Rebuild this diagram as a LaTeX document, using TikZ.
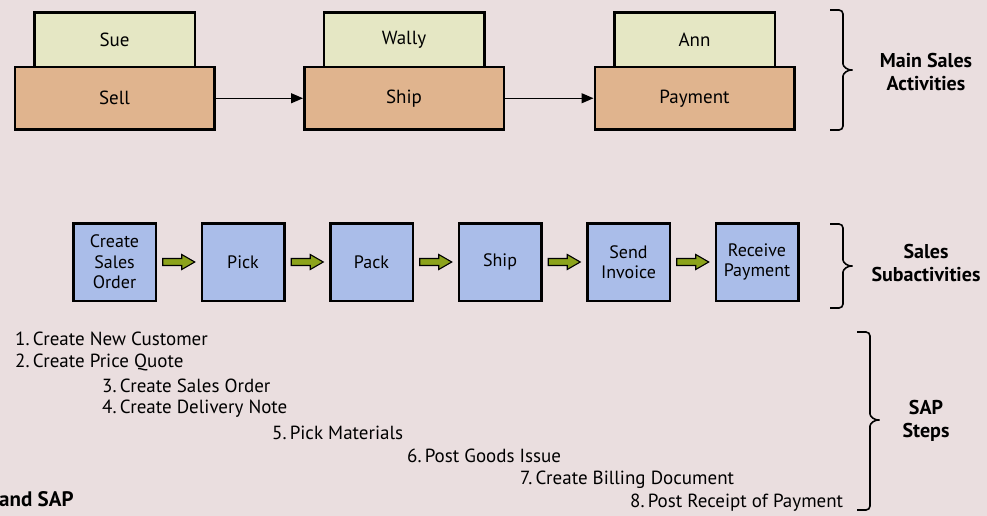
\documentclass[tikz,border=0pt]{standalone}
\usepackage{fontspec}
\setmainfont{PT Sans}
\usetikzlibrary{positioning,calc,arrows.meta}

\definecolor{bgpink}{RGB}{234,222,223}
\definecolor{ownerfill}{RGB}{229,231,196}
\definecolor{actfill}{RGB}{224,180,142}
\definecolor{subfill}{RGB}{170,189,233}
\definecolor{flowgreen}{RGB}{140,163,28}

\tikzset{
  owner/.style={draw, line width=2.5pt, fill=ownerfill, minimum width=160.5pt, minimum height=54.5pt,
    inner sep=0pt, font=\fontsize{19}{22}\selectfont},
  activity/.style={draw, line width=2.5pt, fill=actfill, minimum width=199.5pt, minimum height=62pt,
    inner sep=0pt, font=\fontsize{19}{22}\selectfont},
  subact/.style={draw, line width=2.5pt, fill=subfill, minimum width=82.5pt, minimum height=77.5pt,
    inner sep=0pt, align=center, font=\fontsize{18}{20.5}\selectfont},
  flowarrow/.pic={\draw[line width=1.1pt, fill=flowgreen, line join=miter]
    (-16,-3.5) -- (3,-3.5) -- (3,-7.5) -- (16,0) -- (3,7.5) -- (3,3.5) -- (-16,3.5) -- cycle;},
  saptext/.style={anchor=west, inner sep=0pt, font=\fontsize{19}{22}\selectfont},
  bracelabel/.style={align=center, font=\bfseries\fontsize{20}{23}\selectfont}
}

% x, top, tip, bottom
\newcommand{\sidebrace}[4]{%
  \draw[line width=1.6pt, rounded corners=4pt] (#1,#2) -- ({#1+13},#2) -- ({#1+13},{#3-10})
    .. controls ({#1+13},{#3-3}) and ({#1+18},#3) .. ({#1+25},#3)
    .. controls ({#1+18},#3) and ({#1+13},{#3+3}) .. ({#1+13},{#3+10})
    -- ({#1+13},#4) -- (#1,#4);}

\begin{document}
\begin{tikzpicture}[x=1pt, y=-1pt]
  \fill[bgpink] (0,0) rectangle (987,516);
  \useasboundingbox (0,0) rectangle (987,516);

  % main activities
  \node[owner] (sue) at (114.5,40) {Sue};
  \node[activity, below=-2.5pt of sue] (sell) {Sell};
  \node[owner] (wally) at (404,40) {Wally};
  \node[activity, below=-2.5pt of wally] (ship) {Ship};
  \node[owner] (ann) at (694.5,40) {Ann};
  \node[activity, below=-2.5pt of ann] (payment) {Payment};

  \draw[-{Triangle[length=12pt, width=10pt]}, line width=1.3pt] (sell) -- (ship);
  \draw[-{Triangle[length=12pt, width=10pt]}, line width=1.3pt] (ship) -- (payment);

  % subactivities
  \node[subact] (order) at (114.5,262) {Create\\Sales\\Order};
  \node[subact, right=43.5pt of order] (pick) {Pick};
  \node[subact, right=43.5pt of pick] (pack) {Pack};
  \node[subact, right=43.5pt of pack] (subship) {Ship};
  \node[subact, right=43.5pt of subship] (invoice) {Send\\Invoice};
  \node[subact, right=43.5pt of invoice] (receive) {Receive\\Payment};

  \foreach \a/\b in {order/pick, pick/pack, pack/subship, subship/invoice, invoice/receive}
    \pic at ($(\a.east)!0.5!(\b.west)$) {flowarrow};

  % SAP steps
  \node[saptext] (s1) at (15,339) {1.\,Create New Customer};
  \node[saptext] (s2) at (15,362) {2.\,Create Price Quote};
  \node[saptext] (s3) at (102,386) {3.\,Create Sales Order};
  \node[saptext] (s4) at (102,409) {4.\,Create Delivery Note};
  \node[saptext] (s5) at (272,433) {5.\,Pick Materials};
  \node[saptext] (s6) at (407,456) {6.\,Post Goods Issue};
  \node[saptext] (s7) at (520,480) {7.\,Create Billing Document};
  \node[saptext] (s8) at (630,503) {8.\,Post Receipt of Payment};

  \node[anchor=west, inner sep=0pt, font=\bfseries\fontsize{21}{24}\selectfont] (caption) at (-1,499) {and SAP};

  % braces
  \sidebrace{830}{10}{70}{130}
  \sidebrace{830}{224}{266}{308}
  \sidebrace{857}{332}{420}{510}

  \node[bracelabel] (mainlbl) at (926,72) {Main Sales\\Activities};
  \node[bracelabel] (sublbl) at (926,263) {Sales\\Subactivities};
  \node[bracelabel] (saplbl) at (926,421) {SAP\\Steps};
\end{tikzpicture}
\end{document}
